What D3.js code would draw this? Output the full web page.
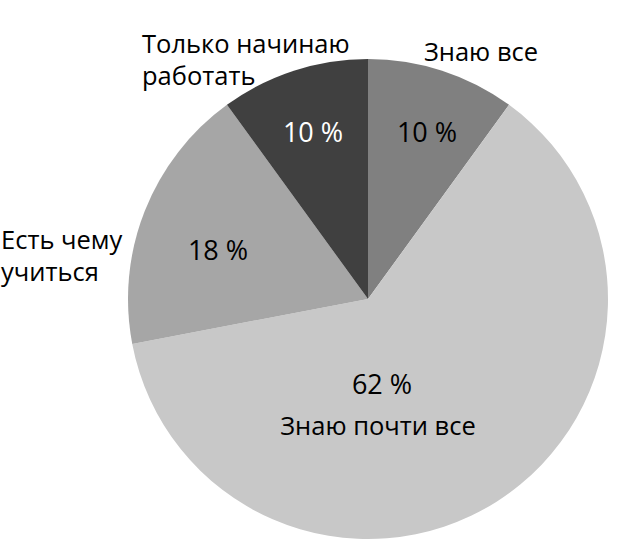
<!DOCTYPE html>
<html><head><meta charset="utf-8">
<script src="https://cdn.jsdelivr.net/npm/d3@7"></script>
<style>body{margin:0;background:#fff}text{font-family:"Open Sans","Noto Sans",sans-serif}</style>
</head><body>
<svg id="c" width="624" height="550"></svg>
<script>
const categories = ["Знаю все", "Знаю почти все", "Есть чему учиться", "Только начинаю работать"];
const values = [10, 62, 18, 10];
const colors = ["#808080", "#c8c8c8", "#a6a6a6", "#404040"];
const pctColors = ["#000", "#000", "#000", "#fff"];
const pctLabels = ["10 %", "62 %", "18 %", "10 %"];
const catLines = [["Знаю все"], ["Знаю почти все"], ["Есть чему", "учиться"], ["Только начинаю", "работать"]];

const svg = d3.select("#c");
const cx = 368, cy = 299, r = 240;
const g = svg.append("g").attr("transform", `translate(${cx},${cy})`);
const pie = d3.pie().sort(null).value(d => d)(values);
const arc = d3.arc().innerRadius(0).outerRadius(r);
g.selectAll("path").data(pie).enter().append("path")
  .attr("d", arc).attr("fill", (d, i) => colors[i]);

// percent label positions (layout)
const pctPos = [[427, 131], [382, 383], [218, 249], [313, 131]];
pie.forEach((d, i) => {
  svg.append("text").attr("x", pctPos[i][0]).attr("y", pctPos[i][1]).attr("text-anchor", "middle")
    .attr("dominant-baseline", "central").attr("font-size", 27)
    .attr("fill", pctColors[i]).text(pctLabels[i]);
});
// category labels
const catPos = [
  {x: 481, y: 51, anchor: "middle"},
  {x: 378, y: 425, anchor: "middle"},
  {x: 1, y: 239, anchor: "start"},
  {x: 142, y: 43, anchor: "start"}
];
catLines.forEach((lines, i) => {
  const p = catPos[i];
  lines.forEach((t, j) => {
    svg.append("text").attr("x", p.x).attr("y", p.y + j * 32)
      .attr("text-anchor", p.anchor).attr("dominant-baseline", "central")
      .attr("font-size", 25.5).attr("fill", "#000").text(t);
  });
});
</script>
</body></html>
